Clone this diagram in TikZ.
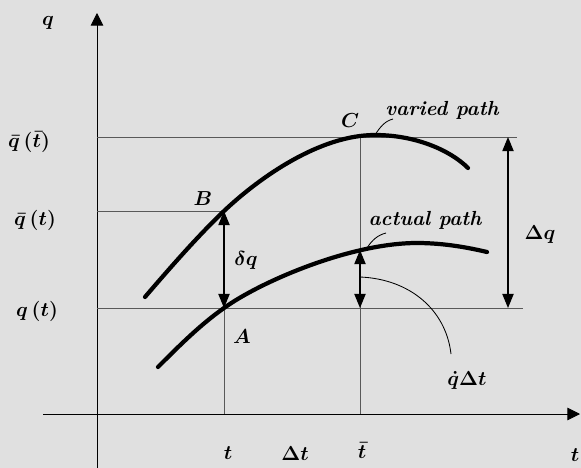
\documentclass[tikz,border=0pt]{standalone}
\usepackage{amsmath,amssymb}
\usetikzlibrary{arrows.meta}
\definecolor{paper}{RGB}{224,224,224}

\begin{document}
\begin{tikzpicture}[x=0.025cm,y=-0.025cm,
  guide/.style={gray!70!black,line width=0.5pt},
  axis/.style={black,line width=0.6pt,-{Triangle[length=9pt,width=9pt]}},
  traj/.style={line width=3pt,line cap=round},
  dim/.style={line width=0.8pt,{Triangle[length=10pt,width=8pt]}-{Triangle[length=10pt,width=8pt]}},
  leader/.style={line width=0.6pt},
  lbl/.style={font=\fontsize{15}{18}\selectfont\boldmath,inner sep=0pt},
  note/.style={font=\fontsize{14.5}{17}\selectfont\bfseries\itshape,inner sep=0pt}
]
\fill[paper] (0,0) rectangle (581,468);
\useasboundingbox (0,0) rectangle (581,468);

% key points
\coordinate (O) at (97,414);
\coordinate (A) at (224,308);
\coordinate (B) at (224,211);
\coordinate (C) at (360,137);
\coordinate (D) at (360,250);
\coordinate (E) at (360,308);

% axes
\draw[axis] (97,468) -- (97,13);
\draw[axis] (43,414) -- (580,414);

% guide lines
\draw[guide] (97,137) -- (517,137);
\draw[guide] (97,211) -- (B);
\draw[guide] (97,308) -- (523,308);
\draw[guide] (A) -- (224,414);
\draw[guide] (C) -- (360,414);

% paths
\draw[traj] (145,297) .. controls (175,262) and (200,234) .. (B)
  .. controls (260,177) and (320,135) .. (375,135)
  .. controls (415,135) and (450,150) .. (468,168);
\draw[traj] (158,367) .. controls (180,345) and (200,325) .. (A)
  .. controls (260,282) and (350,243) .. (417,243)
  .. controls (445,243) and (470,248) .. (487,252);

% variations
\draw[dim] (B) -- (A);
\draw[dim] (D) -- (E);
\draw[dim] (508,137) -- (508,308);

% labels
\node[lbl] (lq) at (48,23) {$q$};
\node[lbl] (lqbb) at (29,142) {$\bar q\,(\bar t)$};
\node[lbl] (lqb) at (35,220) {$\bar q\,(t)$};
\node[lbl] (lqt) at (37,311) {$q\,(t)$};
\node[lbl] (lB) at (203,199) {$B$};
\node[lbl] (lC) at (350,121) {$C$};
\node[lbl] (lA) at (242,337) {$A$};
\node[lbl] (ldq) at (246,260) {$\delta q$};
\node[lbl] (lDq) at (540,235) {$\Delta q$};
\node[lbl] (lqdt) at (467,380) {$\dot q\Delta t$};
\node[lbl,anchor=north] (lt) at (228,446) {$t$};
\node[lbl,anchor=north] (lDt) at (295,446) {$\Delta t$};
\node[lbl,anchor=north] (ltb) at (362,442) {$\bar t$};
\node[lbl] (ltax) at (575,455) {$t$};
\node[note] (lvar) at (442,110) {varied path};
\node[note] (lact) at (425,220) {actual path};

% leaders
\coordinate (vt) at (393,119);
\coordinate (at) at (386,233);
\coordinate (qt) at (451,354);
\draw[leader] (375,135) .. controls (380,127) and (385,121) .. (vt);
\draw[leader] (367,248) .. controls (372,240) and (378,235) .. (at);
\draw[leader] (360,277) .. controls (410,279) and (446,310) .. (qt);
\end{tikzpicture}
\end{document}
